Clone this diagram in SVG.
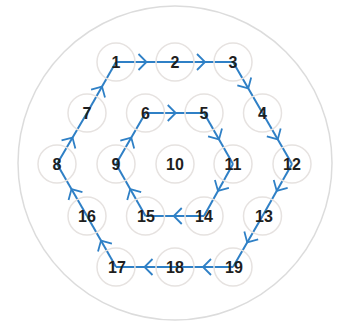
<svg xmlns="http://www.w3.org/2000/svg" width="338" height="326" viewBox="0 0 338 326">
<style>
.n circle{fill:none;stroke:#e6e2e0;stroke-width:1.5}
.n text{font-family:"Liberation Sans",Arial,sans-serif;font-size:16px;font-weight:bold;fill:#1e1e1e;text-anchor:middle}
.e{fill:none;stroke:#2f80c6;stroke-width:2;marker-mid:url(#chev)}
</style>
<defs>
<marker id="chev" markerUnits="userSpaceOnUse" markerWidth="20" markerHeight="20" viewBox="-10 -10 20 20" refX="0" refY="0" orient="auto" overflow="visible">
<path d="M-7,-8 L1,0 L-7,8" fill="none" stroke="#2f80c6" stroke-width="1.8"/>
</marker>
</defs>
<rect width="338" height="326" fill="#fff"/>
<circle cx="175" cy="163" r="157" fill="none" stroke="#dcdcdc" stroke-width="1.5"/>
<g id="connectors">
<path class="e" d="M116,62 L145.5,62 L175,62"/>
<path class="e" d="M175,62 L204,62 L233,62"/>
<path class="e" d="M233,62 L247.75,87.5 L262.5,113"/>
<path class="e" d="M262.5,113 L277.25,138.5 L292,164"/>
<path class="e" d="M292,164 L277.25,190 L262.5,216"/>
<path class="e" d="M262.5,216 L247.75,241.5 L233,267"/>
<path class="e" d="M233,267 L204,267 L175,267"/>
<path class="e" d="M175,267 L145.5,267 L116,267"/>
<path class="e" d="M116,267 L101.5,241.5 L87,216"/>
<path class="e" d="M87,216 L72,190 L57,164"/>
<path class="e" d="M57,164 L72,138.5 L87,113"/>
<path class="e" d="M87,113 L101.5,87.5 L116,62"/>
<path class="e" d="M145.5,113 L174.75,113 L204,113"/>
<path class="e" d="M204,113 L218.5,138.5 L233,164"/>
<path class="e" d="M233,164 L218.5,190 L204,216"/>
<path class="e" d="M204,216 L174.75,216 L145.5,216"/>
<path class="e" d="M145.5,216 L130.75,190 L116,164"/>
<path class="e" d="M116,164 L130.75,138.5 L145.5,113"/>
</g>
<g id="n1" class="n"><circle cx="116" cy="62" r="19"/><text x="116" y="68">1</text></g>
<g id="n2" class="n"><circle cx="175" cy="62" r="19"/><text x="175" y="68">2</text></g>
<g id="n3" class="n"><circle cx="233" cy="62" r="19"/><text x="233" y="68">3</text></g>
<g id="n4" class="n"><circle cx="262.5" cy="113" r="19"/><text x="262.5" y="119">4</text></g>
<g id="n5" class="n"><circle cx="204" cy="113" r="19"/><text x="204" y="119">5</text></g>
<g id="n6" class="n"><circle cx="145.5" cy="113" r="19"/><text x="145.5" y="119">6</text></g>
<g id="n7" class="n"><circle cx="87" cy="113" r="19"/><text x="87" y="119">7</text></g>
<g id="n8" class="n"><circle cx="57" cy="164" r="19"/><text x="57" y="170">8</text></g>
<g id="n9" class="n"><circle cx="116" cy="164" r="19"/><text x="116" y="170">9</text></g>
<g id="n10" class="n"><circle cx="175" cy="164" r="19"/><text x="175" y="170">10</text></g>
<g id="n11" class="n"><circle cx="233" cy="164" r="19"/><text x="233" y="170">11</text></g>
<g id="n12" class="n"><circle cx="292" cy="164" r="19"/><text x="292" y="170">12</text></g>
<g id="n13" class="n"><circle cx="262.5" cy="216" r="19"/><text x="264" y="222">13</text></g>
<g id="n14" class="n"><circle cx="204" cy="216" r="19"/><text x="204" y="222">14</text></g>
<g id="n15" class="n"><circle cx="145.5" cy="216" r="19"/><text x="146" y="222">15</text></g>
<g id="n16" class="n"><circle cx="87" cy="216" r="19"/><text x="87" y="222">16</text></g>
<g id="n17" class="n"><circle cx="116" cy="267" r="19"/><text x="117" y="273">17</text></g>
<g id="n18" class="n"><circle cx="175" cy="267" r="19"/><text x="175" y="273">18</text></g>
<g id="n19" class="n"><circle cx="233" cy="267" r="19"/><text x="234" y="273">19</text></g>
</svg>
